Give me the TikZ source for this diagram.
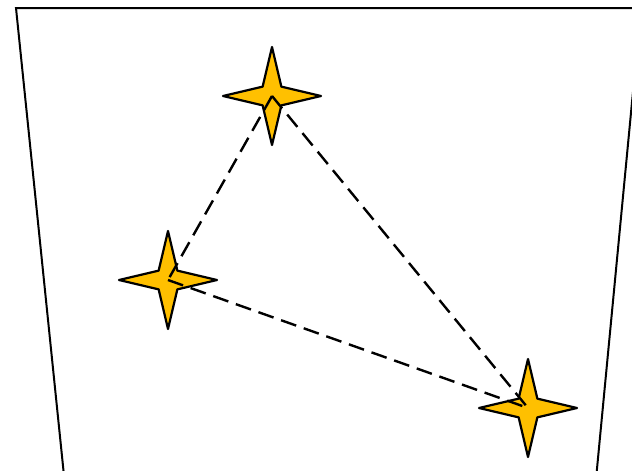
\documentclass[tikz,border=0pt]{standalone}
\usepackage{xcolor}
\usetikzlibrary{shapes.geometric}
\definecolor{stargold}{RGB}{255,192,0}

\begin{document}
\begin{tikzpicture}[x=1pt,y=-1pt,
  spark/.style={star,star points=4,star point ratio=3.7,minimum size=98pt,inner sep=0pt,
    draw,line width=2.2pt,line join=round,fill=stargold},
  link/.style={line width=2.4pt,dash pattern=on 16pt off 8pt}]
\useasboundingbox (0,0) rectangle (632,471);
\clip (0,0) rectangle (632,471);
% frame
\draw[line width=2pt] (66.5,500) -- (16,8) -- (641,8) -- (594,500);
% stars
\node[spark] (top) at (272,96) {};
\node[spark] (left) at (168,280) {};
\node[spark] (right) at (528,408) {};
% dashed links
\draw[link] (top.center) -- (left.center);
\draw[link] (top.center) -- (right.center);
\draw[link] (left.center) -- (right.center);
\end{tikzpicture}
\end{document}
